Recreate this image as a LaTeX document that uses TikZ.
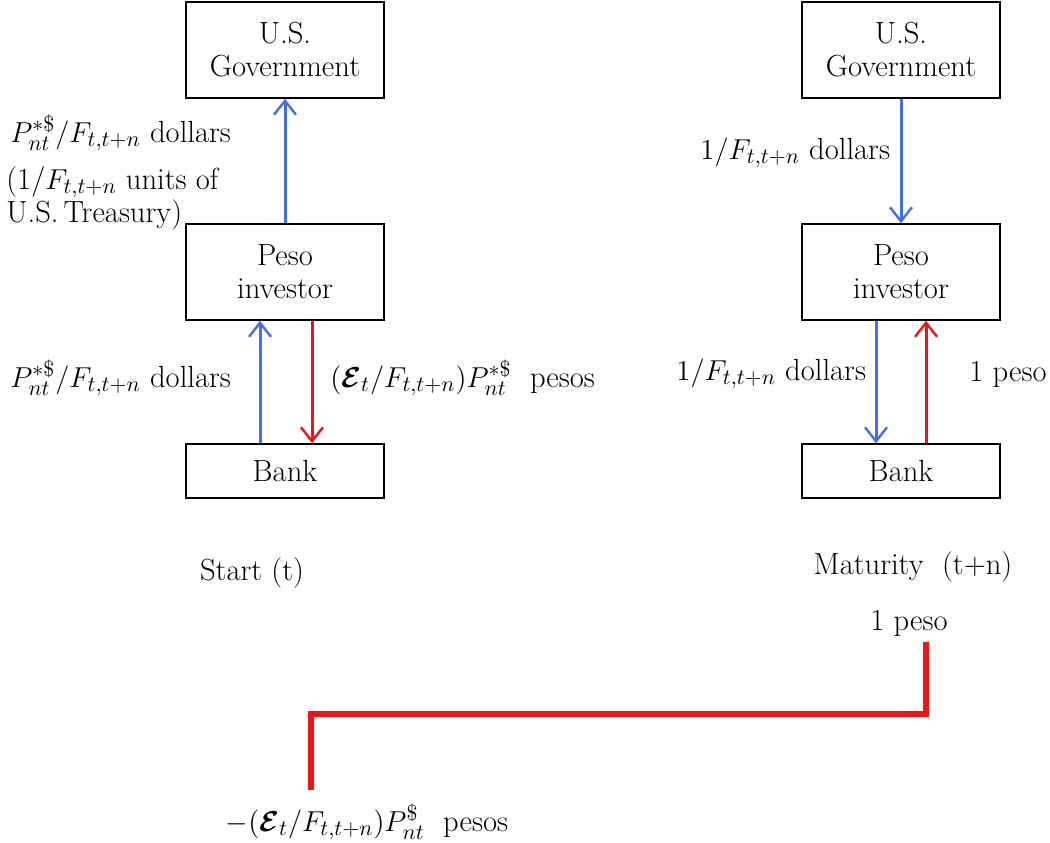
\documentclass[tikz,border=0pt]{standalone}
\usepackage{amsmath}
\usepackage{xcolor}
\usepackage{tikz}
\usetikzlibrary{arrows.meta,positioning,calc}

\definecolor{flowblue}{RGB}{64,112,240}
\definecolor{flowred}{RGB}{240,20,20}

\tikzset{
	acct/.style = {draw, thick, minimum width=99pt, minimum height=48pt, align=center, inner sep=0pt},
	bankbox/.style = {acct, minimum height=27pt},
	usd/.style = {draw=flowblue, line width=1.5pt, -{Straight Barb[length=7pt,width=11pt,line width=1.2pt]}},
	mxn/.style = {draw=flowred, line width=1.5pt, -{Straight Barb[length=7pt,width=11pt,line width=1.2pt]}},
	tag/.style = {anchor=west, inner sep=0pt, align=left}
}

\begin{document}
\begin{tikzpicture}[
			x=0.5pt, y=-0.5pt,
			every node/.style = {font=\fontsize{15.3}{16.5}\selectfont}
			]
			\useasboundingbox (0,0) rectangle (1050,842);

			% start of the contract
			\node[acct] (govS) at (285,50) {U.S.\\Government};
			\node[acct] (invS) at (285,272) {Peso\\investor};
			\node[bankbox] (bankS) at (285,471) {Bank};

			\draw[usd] (invS.north) -- (govS.south);
			\draw[usd] ([xshift=-12.5pt]bankS.north) -- ([xshift=-12.5pt]invS.south);
			\draw[mxn] ([xshift=13.5pt]invS.south) -- ([xshift=13.5pt]bankS.north);

			\node[tag] (payS) at (10,133) {$P_{nt}^{*\$}/F_{t,t+n}$\ dollars};
			\node[tag] (unitsS) at (6,198) {(1/$F_{t,t+n}$\ units of\\U.S.\,Treasury)};
			\node[tag] (dolS) at (10,378) {$P_{nt}^{*\$}/F_{t,t+n}$\ dollars};
			\node[tag] (pesS) at (330,378) {$(\boldsymbol{\mathcal{E}}_t/F_{t,t+n})P_{nt}^{*\$}$\ \ pesos};
			\node (start) at (252,573) {Start (t)};

			% maturity
			\node[acct] (govM) at (901,50) {U.S.\\Government};
			\node[acct] (invM) at (901,272) {Peso\\investor};
			\node[bankbox] (bankM) at (901,471) {Bank};

			\draw[usd] (govM.south) -- (invM.north);
			\draw[usd] ([xshift=-12.5pt]invM.south) -- ([xshift=-12.5pt]bankM.north);
			\draw[mxn] ([xshift=12.5pt]bankM.north) -- ([xshift=12.5pt]invM.south);

			\node[tag] (dolG) at (700,153) {$1/F_{t,t+n}$\ dollars};
			\node[tag] (dolM) at (676,374) {$1/F_{t,t+n}$\ dollars};
			\node[tag] (pesM) at (969,374) {1 peso};
			\node (mat) at (913,567) {Maturity\ \ (t+n)};
			\node (one) at (909,623) {1 peso};

			% net peso position
			\node (net) at (367,822) {$-(\boldsymbol{\mathcal{E}}_t/F_{t,t+n})P_{nt}^{\$}$\ \ pesos};
			\coordinate (hi) at (926,642);
			\coordinate (mid) at (600,714);
			\coordinate (lo) at (311,790);
			\draw[flowred, line width=2.6pt] (hi) |- (mid) -| (lo);

		\end{tikzpicture}
\end{document}
